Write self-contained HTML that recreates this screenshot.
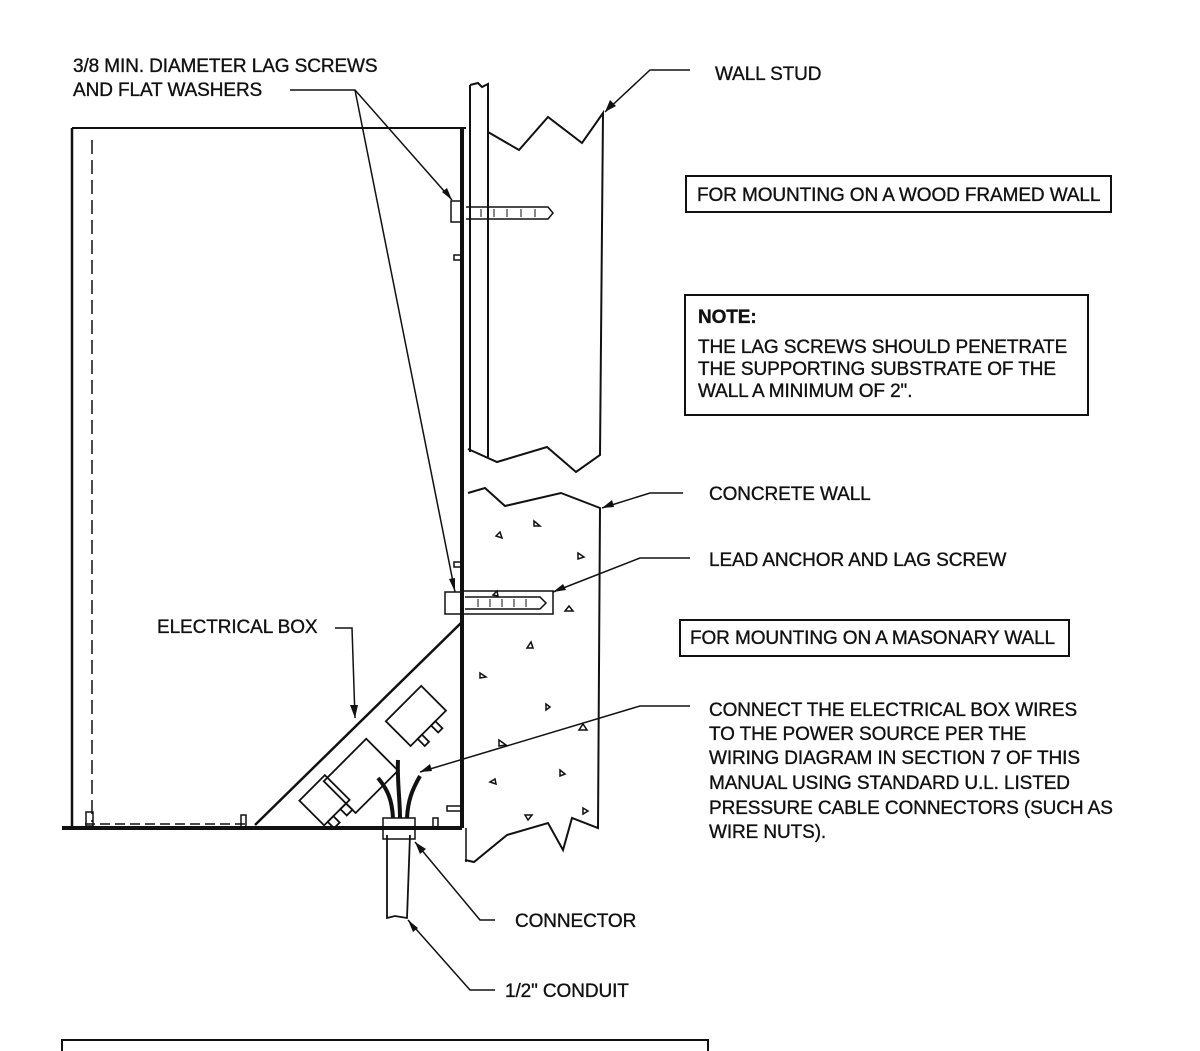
<!DOCTYPE html>
<html><head><meta charset="utf-8"><style>
html,body{margin:0;padding:0;background:#fff}
svg{display:block}
text{font-family:"Liberation Sans",Arial,sans-serif;font-size:19px;fill:#111;stroke:#111;stroke-width:0.35;letter-spacing:-0.1px}
</style></head><body>
<svg width="1200" height="1051" viewBox="0 0 1200 1051" xmlns="http://www.w3.org/2000/svg">
<g stroke="#111" fill="none" stroke-width="2">
<!-- cabinet -->
<path d="M72 128 L466 128"/>
<path d="M72 128 L72 828" stroke-width="2.5"/>
<path d="M92 140 L92 822" stroke-dasharray="14,6" stroke-width="1.5"/>
<path d="M62 828 L462 828" stroke-width="4"/>
<path d="M85 824 L250 824" stroke-dasharray="10,5" stroke-width="1.5"/>
<path d="M462 128 L462 828" stroke-width="4"/>
<rect x="86" y="812" width="7" height="14" stroke-width="1.5"/>
<rect x="241" y="815" width="5" height="12" stroke-width="1.5"/>
<rect x="433" y="818" width="5" height="9" stroke-width="1.5"/>
<rect x="454" y="255" width="8" height="5" stroke-width="1.5"/>
<rect x="454" y="562" width="8" height="5" stroke-width="1.5"/>
<rect x="447" y="806" width="14" height="5" stroke-width="1.5"/>
<!-- stud -->
<path d="M470 85 L470 452"/>
<path d="M470 85 L478 83 L482 87 L488 84 L488 457"/>
<path d="M488 132 L519 150 L548 117 L582 143 L603 113 L600 455 L576 472 L547 447 L497 462 L468 449"/>
<!-- top lag screw -->
<rect x="451" y="201" width="11" height="21" stroke-width="1.5"/>
<path d="M466 207 L548 207 L553 213 L548 219 L466 219" stroke-width="1.5"/>
<path d="M481 209v8M494 209v8M507 209v8M521 209v8M535 209v8" stroke-width="1"/>
<!-- concrete -->
<path d="M468 493 L485 488 L505 506 L561 493 L600 508 L598 828 L572 818 L563 850 L548 823 L507 835 L474 862 L465 860"/>
<path d="M466 828 L466 862" stroke-width="1.5"/>
<!-- lead anchor -->
<rect x="445" y="592" width="17" height="22" stroke-width="1.5"/>
<path d="M464 591 L553 591 L553 614 L464 614" stroke-width="1.5"/>
<path d="M465 597 L540 597 L546 603 L540 609 L465 609" stroke-width="1.5"/>
<path d="M478 599v8M490 599v8M502 599v8M514 599v8M526 599v8" stroke-width="1"/>
<!-- concrete specks -->
<g stroke-width="1.5">
<path d="M534 521 l6 5 l-6 0z M496 536 l4 -4 l2 6z M578 553 l6 4 l-6 2z M565 611 l8 0 l-4 -5z M527 648 l4 -6 l2 6z M480 673 l6 4 l-6 1z M546 704 l4 3 l-4 3z M499 740 l7 5 l-7 1z M579 730 l8 0 l-4 -6z M560 770 l5 4 l-5 2z M490 782 l5 -3 l1 5z M525 815 l7 0 l-4 5z M583 808 l5 3 l-5 3z M493 595 l4 -4 l1 5z"/>
</g>
<!-- diagonal box and components -->
<path d="M462 622 L255 825" stroke-width="2.5"/>
<g transform="rotate(-45 400 700)" stroke-width="1.8">
<rect x="375" y="705" width="50" height="35"/>
<rect x="385" y="740" width="6" height="10"/><rect x="404" y="740" width="6" height="10"/>
</g>
<g transform="rotate(-45 345 760)" stroke-width="1.8">
<rect x="315" y="760" width="60" height="45"/>
</g>
<g transform="rotate(-45 310 790)" stroke-width="1.8">
<rect x="295" y="790" width="36" height="35"/>
<rect x="300" y="825" width="8" height="9"/><rect x="318" y="825" width="8" height="9"/>
</g>
<!-- wires & connector -->
<rect x="383" y="818" width="32" height="10" stroke-width="1.5"/>
<rect x="383" y="829" width="32" height="10" stroke-width="1.5"/>
<path d="M393 818 C392 800 388 790 378 778" stroke-width="4"/>
<path d="M400 818 C400 800 397 780 398 760" stroke-width="4"/>
<path d="M407 818 C408 800 412 790 420 776" stroke-width="4"/>
<path d="M387 835 L387 918 L395 916 L407 918 L410 835" stroke-width="1.8"/>
<!-- leaders -->
<g stroke-width="1.5">
<path d="M290 90 L355 90 L452 200"/>
<path d="M355 90 L455 592"/>
<path d="M690 70 L650 70 L605 112"/>
<path d="M683 493 L650 493 L602 508"/>
<path d="M690 558 L640 558 L553 592"/>
<path d="M335 628 L352 628 L355 718"/>
<path d="M690 706 L640 706 L420 772"/>
<path d="M495 920 L480 920 L415 842"/>
<path d="M495 990 L470 990 L408 920"/>
</g>
<g fill="#111" stroke="none">
<path d="M452 200 L442 192 L447 188z"/>
<path d="M455 592 L449 579 L455 578z"/>
<path d="M605 112 L610 100 L616 106z"/>
<path d="M602 508 L612 500 L614 507z"/>
<path d="M553 592 L563 584 L566 590z"/>
<path d="M355 718 L350 705 L358 705z"/>
<path d="M420 772 L430 764 L432 771z"/>
<path d="M415 842 L426 849 L420 854z"/>
<path d="M408 920 L418 928 L413 932z"/>
</g>
<!-- boxes -->
<rect x="686" y="176" width="425" height="36"/>
<rect x="685" y="295" width="403" height="120"/>
<rect x="680" y="620" width="389" height="36"/>
<path d="M62 1051 L62 1040 L708 1040 L708 1051"/>
</g>
<text x="73" y="72">3/8 MIN. DIAMETER LAG SCREWS</text>
<text x="73" y="96">AND FLAT WASHERS</text>
<text x="715" y="80">WALL STUD</text>
<text x="697" y="201">FOR MOUNTING ON A WOOD FRAMED WALL</text>
<text x="698" y="323" style="font-weight:bold">NOTE:</text>
<text x="698" y="353">THE LAG SCREWS SHOULD PENETRATE</text>
<text x="698" y="375">THE SUPPORTING SUBSTRATE OF THE</text>
<text x="698" y="397">WALL A MINIMUM OF 2".</text>
<text x="709" y="500">CONCRETE WALL</text>
<text x="709" y="566">LEAD ANCHOR AND LAG SCREW</text>
<text x="157" y="633">ELECTRICAL BOX</text>
<text x="690" y="644">FOR MOUNTING ON A MASONARY WALL</text>
<text x="709" y="716">CONNECT THE ELECTRICAL BOX WIRES</text>
<text x="709" y="740">TO THE POWER SOURCE PER THE</text>
<text x="709" y="764">WIRING DIAGRAM IN SECTION 7 OF THIS</text>
<text x="709" y="789">MANUAL USING STANDARD U.L. LISTED</text>
<text x="709" y="814">PRESSURE CABLE CONNECTORS (SUCH AS</text>
<text x="709" y="838">WIRE NUTS).</text>
<text x="515" y="927">CONNECTOR</text>
<text x="505" y="997">1/2" CONDUIT</text>
</svg>
</body></html>
